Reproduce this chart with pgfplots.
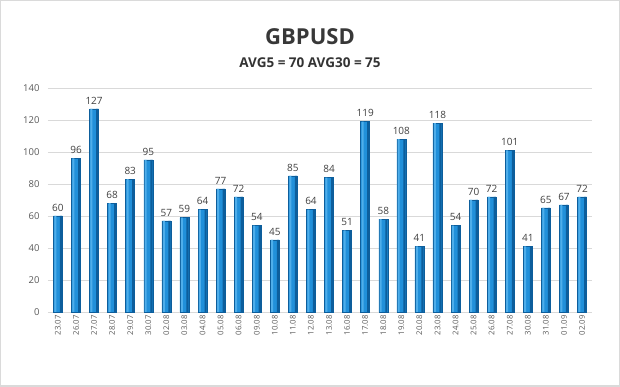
\documentclass[border=0pt]{standalone}
\usepackage{pgfplots}
\usepackage{pgfplotstable}
\pgfplotsset{compat=1.18}
\usepackage{fontspec}
\setmainfont{Open Sans}
\definecolor{barmain}{HTML}{2190DA}
\definecolor{barlight}{HTML}{4FAEEA}
\definecolor{bardark}{HTML}{0D5E9C}
\definecolor{gridc}{HTML}{D9D9D9}
\definecolor{tickc}{HTML}{595959}
\definecolor{framec}{HTML}{DADADA}
\pgfplotstableread{
x y
0 60
1 96
2 127
3 68
4 83
5 95
6 57
7 59
8 64
9 77
10 72
11 54
12 45
13 85
14 64
15 84
16 51
17 119
18 58
19 108
20 41
21 118
22 54
23 70
24 72
25 101
26 41
27 65
28 67
29 72
}\gbp
\begin{document}
\begin{tikzpicture}
\begin{axis}[
  name=ax,
  scale only axis,
  width=544pt, height=224pt,
  xmin=-0.55, xmax=29.55,
  ymin=0, ymax=140,
  ytick={0,20,...,140},
  xtick=data,
  xticklabels={23.07,26.07,27.07,28.07,29.07,30.07,02.08,03.08,04.08,05.08,06.08,09.08,10.08,11.08,12.08,13.08,16.08,17.08,18.08,19.08,20.08,23.08,24.08,25.08,26.08,27.08,30.08,31.08,01.09,02.09},
  x tick label style={rotate=90, anchor=east, font=\fontsize{7.8}{8}\selectfont, text=tickc},
  y tick label style={font=\fontsize{9.5}{10}\selectfont, text=tickc, xshift=-5pt},
  /pgf/number format/assume math mode=true,
  axis line style={draw=none},
  x axis line style={draw=gridc},
  major tick length=0pt,
  ymajorgrids, grid style={gridc, line width=0.6pt},
  axis x line*=bottom,
  axis y line*=left,
  ybar, bar width=9pt,
  clip=false,
]
\addplot[draw=bardark, line width=0.5pt, fill=barmain, bar shift=0pt,
  nodes near coords,
  every node near coord/.append style={font=\fontsize{10}{11}\selectfont, text=black!75, yshift=1pt}] table[x=x,y=y] {\gbp};
\addplot[draw=none, fill=bardark, bar width=2.2pt, bar shift=3.1pt] table[x=x,y=y] {\gbp};
\addplot[draw=none, fill=barlight, bar width=2pt, bar shift=-2.6pt] table[x=x,y=y] {\gbp};
\end{axis}
\draw[framec, line width=1.5pt] ([xshift=-47.25pt,yshift=-74.25pt]ax.south west) rectangle ++(618.5pt,385.5pt);
\node[font=\fontsize{22}{24}\selectfont\bfseries, text=black!78] at ([xshift=262pt,yshift=275pt]ax.south west) {GBPUSD};
\node[font=\fontsize{13.5}{15}\selectfont\bfseries, text=black!80] at ([xshift=262pt,yshift=249pt]ax.south west) {AVG5 = 70 AVG30 = 75};
\end{tikzpicture}
\end{document}
